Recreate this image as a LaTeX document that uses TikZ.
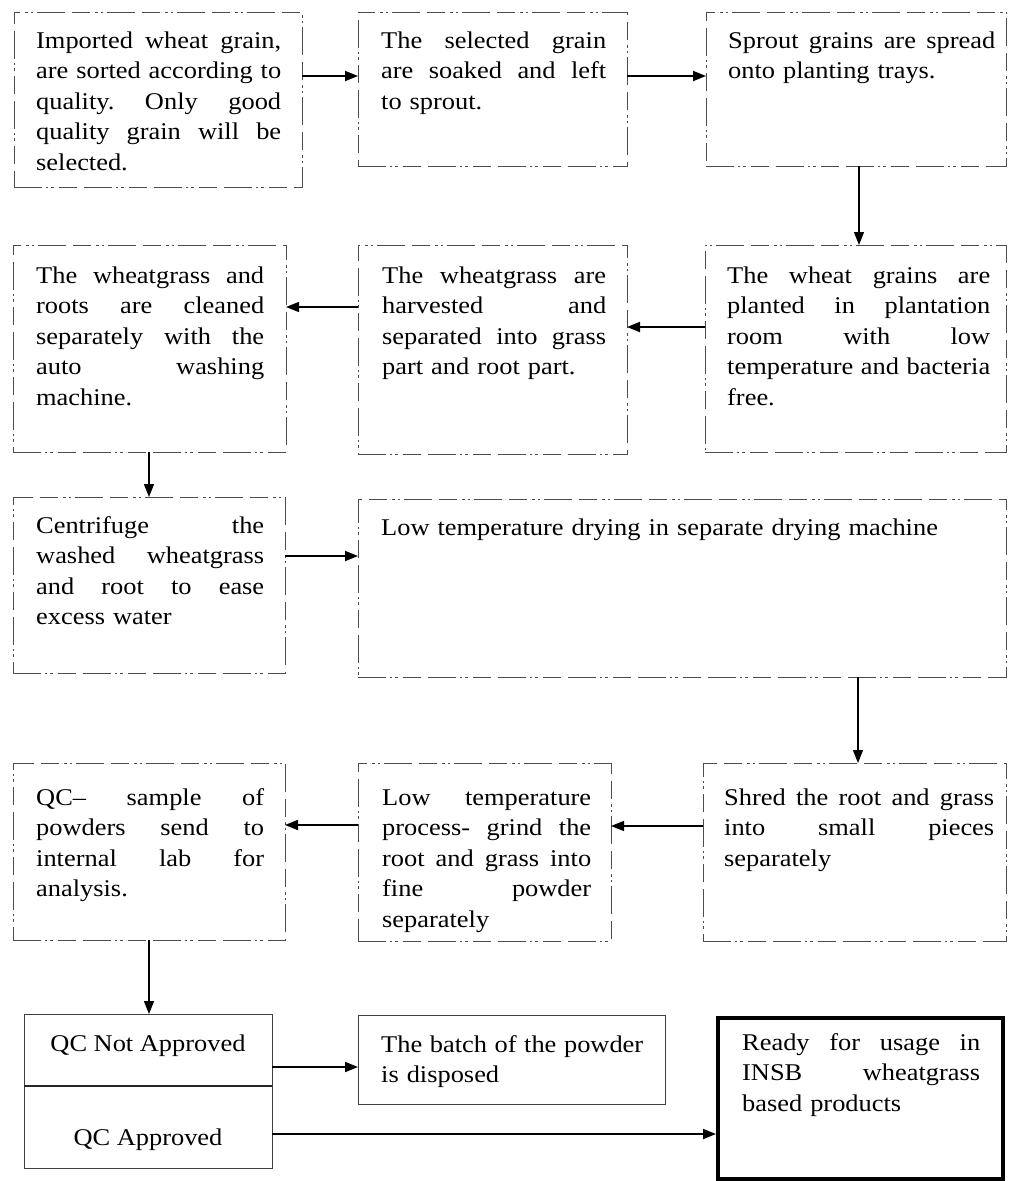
\documentclass[tikz,border=0pt]{standalone}
\usepackage{fontspec}
\setmainfont{Liberation Serif}[FakeStretch=1.1]
\usetikzlibrary{arrows.meta}
\newlength\jlw
\newcommand\jl[1]{\leavevmode\hbox to \jlw{\spaceskip=0.25em plus 1fil\relax\xspaceskip=\spaceskip #1}}
\begin{document}
\begin{tikzpicture}[x=1pt,y=-1pt,
  scan/.style={draw=black!70, line width=0.9pt, dash pattern=on 28pt off 4pt on 2pt off 3pt on 3pt off 5pt on 18pt off 7pt},
  solidbox/.style={draw=black!75, line width=1pt},
  boxn/.style={inner sep=0pt, outer sep=0pt, anchor=north west},
  txt/.style={inner sep=0pt, anchor=base west, font=\fontsize{24}{30.5}\selectfont},
  tw/.style={text width=#1, execute at begin node={\global\jlw=#1\relax}},
  arr/.style={line width=1.8pt, -{Triangle[length=13pt,width=10pt]}},
  thinarr/.style={line width=1.3pt, -{Triangle[length=13pt,width=10pt]}}
]
\useasboundingbox[fill=white] (0,0) rectangle (1009,1181);
% boxes
\node[boxn, scan, minimum width=288pt, minimum height=175pt] (A) at (14,12) {};
\node[boxn, scan, minimum width=269pt, minimum height=154pt] (B) at (358,12) {};
\node[boxn, scan, minimum width=300pt, minimum height=154pt] (C) at (706,12) {};
\node[boxn, scan, minimum width=273pt, minimum height=207pt] (D) at (13,245) {};
\node[boxn, scan, minimum width=269pt, minimum height=209pt] (E) at (358,245) {};
\node[boxn, scan, minimum width=301pt, minimum height=207pt] (F) at (705,245) {};
\node[boxn, scan, minimum width=272pt, minimum height=176pt] (G) at (13,497) {};
\node[boxn, scan, minimum width=648pt, minimum height=178pt] (H) at (358,499) {};
\node[boxn, scan, minimum width=272pt, minimum height=177pt] (L) at (13,763) {};
\node[boxn, scan, minimum width=253pt, minimum height=178pt] (K) at (358,763) {};
\node[boxn, scan, minimum width=303pt, minimum height=178pt] (I) at (703,763) {};
\node[boxn, solidbox, minimum width=248pt, minimum height=72pt] (Mt) at (24,1014) {};
\node[boxn, solidbox, minimum width=248pt, minimum height=82pt] (Mb) at (24,1086) {};
\draw[line width=2pt, black!85] (Mt.south west) -- (Mt.south east);
\node[boxn, solidbox, minimum width=307pt, minimum height=89pt] (N) at (358,1015) {};
\node[boxn, draw=black, line width=4.5pt, minimum width=285pt, minimum height=161pt] (O) at (718,1018) {};
% texts
\node[txt, tw=245pt] (At) at (36,48) {\jl{Imported wheat grain,}\\\jl{are sorted according to}\\\jl{quality. Only good}\\\jl{quality grain will be}\\selected.};
\node[txt, tw=225pt] (Bt) at (381,48) {\jl{The selected grain}\\\jl{are soaked and left}\\to sprout.};
\node[txt, tw=267pt] (Ct) at (728,48) {\jl{Sprout grains are spread}\\onto planting trays.};
\node[txt, tw=228pt] (Dt) at (36,283) {\jl{The wheatgrass and}\\\jl{roots are cleaned}\\\jl{separately with the}\\\jl{auto washing}\\machine.};
\node[txt, tw=224pt] (Et) at (382,283) {\jl{The wheatgrass are}\\\jl{harvested and}\\\jl{separated into grass}\\part and root part.};
\node[txt, tw=263pt] (Ft) at (727,283) {\jl{The wheat grains are}\\\jl{planted in plantation}\\\jl{room with low}\\\jl{temperature and bacteria}\\free.};
\node[txt, tw=228pt] (Gt) at (36,533) {\jl{Centrifuge the}\\\jl{washed wheatgrass}\\\jl{and root to ease}\\excess water};
\node[txt, text width=620pt] (Ht) at (381,535) {Low temperature drying in separate drying machine};
\node[txt, tw=228pt] (Lt) at (36,805) {\jl{QC– sample of}\\\jl{powders send to}\\\jl{internal lab for}\\analysis.};
\node[txt, tw=209pt] (Kt) at (382,805) {\jl{Low temperature}\\\jl{process- grind the}\\\jl{root and grass into}\\\jl{fine powder}\\separately};
\node[txt, tw=270pt] (It) at (724,805) {\jl{Shred the root and grass}\\\jl{into small pieces}\\separately};
\node[txt, anchor=base] (Mtt) at (148,1051) {QC Not Approved};
\node[txt, anchor=base] (Mbt) at (148,1145) {QC Approved};
\node[txt, tw=262pt] (Nt) at (381,1052) {\jl{The batch of the powder}\\is disposed};
\node[txt, tw=238pt] (Ot) at (742,1050) {\jl{Ready for usage in}\\\jl{INSB wheatgrass}\\based products};
% arrows
\draw[arr] ([yshift=-64pt]A.north east) -- ([yshift=-64pt]B.north west);
\draw[arr] ([yshift=-64pt]B.north east) -- ([yshift=-64pt]C.north west);
\draw[thinarr] ([xshift=153pt]C.south west) -- ([xshift=154pt]F.north west);
\draw[arr] ([yshift=-82pt]F.north west) -- ([yshift=-82pt]E.north east);
\draw[thinarr] ([yshift=-62pt]E.north west) -- ([yshift=-62pt]D.north east);
\draw[thinarr] ([xshift=136pt]D.south west) -- ([xshift=136pt]G.north west);
\draw[arr] ([yshift=-59pt]G.north east) -- ([yshift=-57pt]H.north west);
\draw[thinarr] ([xshift=500pt]H.south west) -- ([xshift=155pt]I.north west);
\draw[thinarr] ([yshift=-63pt]I.north west) -- ([yshift=-63pt]K.north east);
\draw[arr] ([yshift=-62pt]K.north west) -- ([yshift=-62pt]L.north east);
\draw[thinarr] ([xshift=136pt]L.south west) -- ([xshift=125pt]Mt.north west);
\draw[arr] ([yshift=-53pt]Mt.north east) -- ([yshift=-52pt]N.north west);
\draw[arr] ([yshift=-48pt]Mb.north east) -- ([xshift=-2pt,yshift=-116pt]O.north west);
\end{tikzpicture}
\end{document}
